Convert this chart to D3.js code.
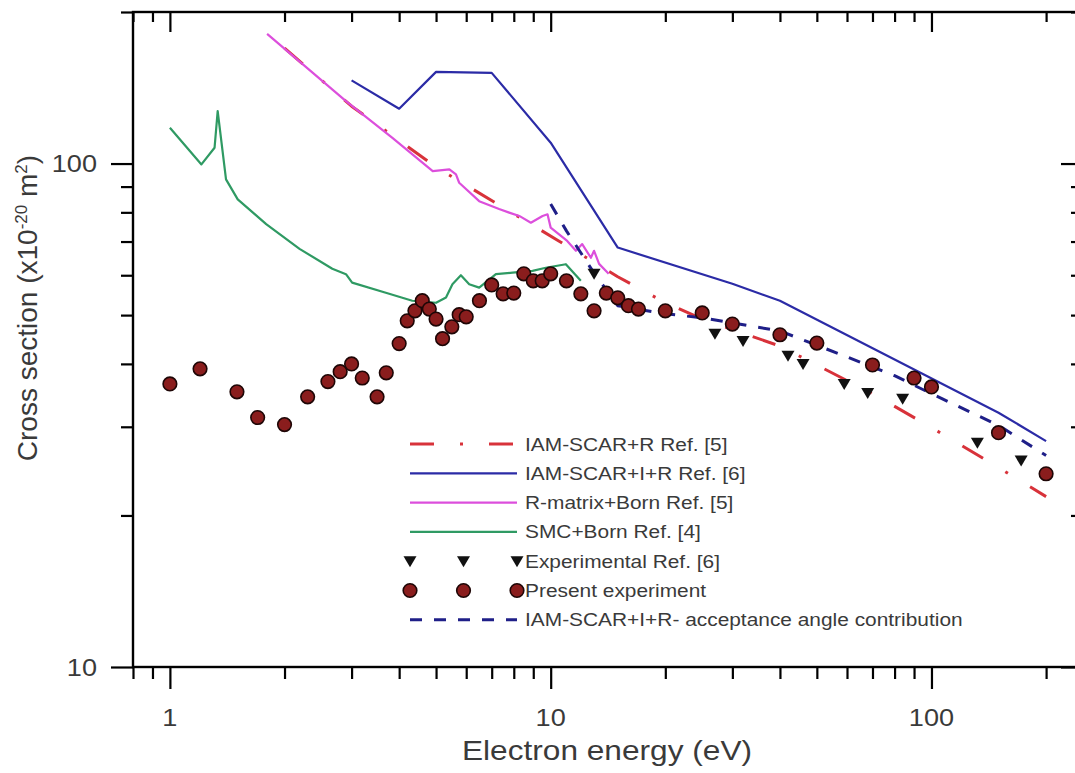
<!DOCTYPE html>
<html>
<head>
<meta charset="utf-8">
<script src="https://cdn.jsdelivr.net/npm/d3@7"></script>
<style>
  body { margin: 0; background: #fff; }
  svg { display: block; }
  text { font-family: "Liberation Sans", Arial, sans-serif; }
</style>
</head>
<body>
<svg id="chart" width="1075" height="773"></svg>
<script>
// ---- Data: electron energy (eV) and cross section (10^-20 m^2) ----
const iamRE  = [2, 3, 5, 10.5, 15, 20, 25, 40, 70, 100, 150, 200];
const iamRCS = [169.5, 130, 98.4, 70.2, 59.6, 52.9, 49.1, 43.4, 34.9, 29.9, 24.9, 21.8];

const iamIRE  = [3, 4, 5, 7, 10, 15, 30, 40, 150, 200];
const iamIRCS = [146.3, 128.5, 152.1, 151.4, 110, 68.1, 57.7, 53.4, 32.0, 28.1];

const rMatrixE  = [1.8, 2.9, 3.84, 4.9, 5.42, 5.64, 5.75, 6.49, 7.32, 7.78, 8.27, 8.87, 9.52, 9.81, 10.0, 10.5, 11.05, 11.65, 12.1, 12.75, 13.0, 13.4, 14.2];
const rMatrixCS = [180.9, 133.0, 112.5, 96.6, 97.4, 95.2, 91.6, 84.2, 81.2, 79.9, 78.7, 76.3, 78.7, 79.3, 74.6, 72.4, 70.2, 67.1, 69.2, 65.0, 67.1, 63.2, 60.4];

const smcE  = [1.0, 1.21, 1.31, 1.335, 1.404, 1.507, 1.79, 2.19, 2.67, 2.90, 3.01, 3.69, 4.33, 5.0, 5.31, 5.52, 5.81, 6.11, 6.49, 7.18, 7.94, 8.96, 9.71, 10.96, 12.0];
const smcCS = [117.8, 99.6, 107.5, 127.1, 93.0, 84.9, 75.8, 67.7, 61.8, 60.3, 58.0, 55.4, 53.4, 52.9, 54.2, 57.6, 60.0, 57.6, 56.7, 60.3, 60.7, 61.2, 62.1, 63.1, 58.5];

const acceptE  = [10, 11, 13, 15, 20, 25, 40, 60, 80, 100, 150, 200];
const acceptCS = [83.1, 73.5, 60.6, 52.2, 50.3, 49.4, 46.5, 41.3, 37.9, 34.9, 30.2, 26.3];

const ref6E  = [13, 27, 32, 42, 46, 59, 68, 84, 132, 172];
const ref6CS = [60.4, 45.9, 44.4, 41.5, 40.0, 36.5, 35.0, 34.1, 27.9, 25.7];

const presentE  = [1.0, 1.2, 1.5, 1.7, 2.0, 2.3, 2.6, 2.8, 3.0, 3.2, 3.5, 3.7, 4.0, 4.2, 4.4, 4.6, 4.8, 5.0, 5.2, 5.5, 5.75, 6.0, 6.5, 7.0, 7.5, 8.0, 8.5, 9.0, 9.5, 10, 11, 12, 13, 14, 15, 16, 17, 20, 25, 30, 40, 50, 70, 90, 100, 150, 200];
const presentCS = [36.5, 39.1, 35.2, 31.3, 30.3, 34.4, 36.9, 38.6, 40.0, 37.5, 34.4, 38.4, 43.9, 48.7, 51.0, 53.4, 51.4, 49.1, 44.9, 47.4, 50.1, 49.6, 53.4, 57.4, 55.1, 55.3, 60.4, 58.5, 58.5, 60.4, 58.5, 55.1, 51.0, 55.3, 54.1, 52.2, 51.4, 51.0, 50.5, 48.0, 45.7, 44.0, 39.8, 37.5, 36.0, 29.2, 24.2];

// ---- Axis ticks ----
const xMajor = [1, 10, 100];
const xMinor = [0.8, 0.9, 2, 3, 4, 5, 6, 7, 8, 9, 20, 30, 40, 50, 60, 70, 80, 90, 200];
const xLabels = ["1", "10", "100"];
const yMajor = [10, 100];
const yMinor = [20, 30, 40, 50, 60, 70, 80, 90, 200];
const yLabels = ["10", "100"];

const legendLabels = [
  "IAM-SCAR+R Ref. [5]",
  "IAM-SCAR+I+R Ref. [6]",
  "R-matrix+Born Ref. [5]",
  "SMC+Born Ref. [4]",
  "Experimental Ref. [6]",
  "Present experiment",
  "IAM-SCAR+I+R- acceptance angle contribution"
];

// ---- Layout ----
const svg = d3.select("#chart");
const pL = 133, pR = 1083, pT = 12, pB = 667;
const x = d3.scaleLog().domain([0.8, 250]).range([pL, pR]);
const y = d3.scaleLog().domain([10, 200]).range([pB, pT]);
const MAJ = 22, MIN = 12;
const SX = 1.13; // horizontal text stretch

const zip = (es, cs) => es.map((e, i) => ({ e, c: cs[i] }));
const line = d3.line().x(d => x(d.e)).y(d => y(d.c));

// ---- Series styles ----
const styles = {
  iamR:   { stroke: "#d8323a", width: 3,   dash: "24,26,3,26" },
  iamIR:  { stroke: "#2b2ba6", width: 2.2, dash: null },
  rmat:   { stroke: "#dc4fdc", width: 2.2, dash: null },
  smc:    { stroke: "#2f9a63", width: 2.2, dash: null },
  accept: { stroke: "#1f1f88", width: 3,   dash: "12,12" }
};

const plot = svg.append("g");
function drawLine(data, st) {
  plot.append("path")
    .attr("d", line(data))
    .attr("fill", "none")
    .attr("stroke", st.stroke)
    .attr("stroke-width", st.width)
    .attr("stroke-linejoin", "round")
    .attr("stroke-dasharray", st.dash);
}
drawLine(zip(smcE, smcCS), styles.smc);
drawLine(zip(iamIRE, iamIRCS), styles.iamIR);
drawLine(zip(iamRE, iamRCS), styles.iamR);
drawLine(zip(rMatrixE, rMatrixCS), styles.rmat);
drawLine(zip(acceptE, acceptCS), styles.accept);

// markers
const triPath = "M-6.5,-5 L6.5,-5 L0,6 Z";
function triangle(g, cx, cy) {
  g.append("path").attr("d", triPath)
    .attr("transform", `translate(${cx},${cy})`)
    .attr("fill", "#111");
}
function circle(g, cx, cy) {
  g.append("circle").attr("cx", cx).attr("cy", cy).attr("r", 6.8)
    .attr("fill", "#8a1d1d").attr("stroke", "#1e0606").attr("stroke-width", 1.6);
}
zip(ref6E, ref6CS).forEach(d => triangle(plot, x(d.e), y(d.c)));
zip(presentE, presentCS).forEach(d => circle(plot, x(d.e), y(d.c)));

// ---- Axes ----
const axisG = svg.append("g");
function tickAxis(axisFn, scale, vals, size, tx, ty) {
  const g = axisG.append("g").attr("transform", `translate(${tx},${ty})`)
    .call(axisFn(scale).tickValues(vals).tickSize(size).tickFormat(""));
  g.select(".domain").remove();
  g.selectAll("line").attr("stroke", "#000").attr("stroke-width", 2.2);
}
// bottom (outward), top (inward)
tickAxis(d3.axisBottom, x, xMajor, MAJ, 0, pB);
tickAxis(d3.axisBottom, x, xMinor, MIN, 0, pB);
tickAxis(d3.axisBottom, x, xMajor, MAJ - 2, 0, pT);
tickAxis(d3.axisBottom, x, xMinor, MIN - 2, 0, pT);
// left (outward), right (inward)
tickAxis(d3.axisLeft, y, yMajor, MAJ, pL, 0);
tickAxis(d3.axisLeft, y, yMinor, MIN, pL, 0);
tickAxis(d3.axisLeft, y, yMajor, MAJ, pR, 0);
tickAxis(d3.axisLeft, y, yMinor, MIN, pR, 0);

// frame
axisG.append("rect").attr("x", pL).attr("y", pT)
  .attr("width", pR - pL).attr("height", pB - pT)
  .attr("fill", "none").attr("stroke", "#000").attr("stroke-width", 2.4);

// tick labels
function stretched(g, tx, ty, txt, size, anchor, fill) {
  return g.append("text")
    .attr("transform", `translate(${tx},${ty}) scale(${SX},1)`)
    .attr("text-anchor", anchor)
    .attr("font-size", size)
    .attr("fill", fill)
    .text(txt);
}
const labG = svg.append("g");
xMajor.forEach((v, i) => stretched(labG, x(v), 726, xLabels[i], 24, "middle", "#3a3a3a"));
yMajor.forEach((v, i) => stretched(labG, 97, y(v) + 8.5, yLabels[i], 24, "end", "#3a3a3a"));

// axis titles
stretched(labG, 607, 760, "Electron energy (eV)", 28, "middle", "#3a3a3a");
const yt = labG.append("text")
  .attr("transform", "translate(37,308) rotate(-90)")
  .attr("text-anchor", "middle")
  .attr("font-size", 28)
  .attr("fill", "#3a3a3a");
yt.append("tspan").text("Cross section (x10");
yt.append("tspan").attr("font-size", 17).attr("dy", -10).text("-20");
yt.append("tspan").attr("dy", 10).text(" m");
yt.append("tspan").attr("font-size", 17).attr("dy", -10).text("2");
yt.append("tspan").attr("dy", 10).text(")");

// ---- Legend ----
const legG = svg.append("g");
const legX0 = 410, legX1 = 517, legTextX = 525, legY0 = 444, legDY = 29.3;
const legendKinds = ["iamR", "iamIR", "rmat", "smc", "tri", "circ", "accept"];
legendKinds.forEach((k, i) => {
  const ly = legY0 + i * legDY;
  if (k === "tri") {
    [legX0, (legX0 + legX1) / 2, legX1].forEach(px => triangle(legG, px, ly));
  } else if (k === "circ") {
    [legX0, (legX0 + legX1) / 2, legX1].forEach(px => circle(legG, px, ly));
  } else {
    const st = styles[k];
    legG.append("line").attr("x1", legX0).attr("x2", legX1)
      .attr("y1", ly).attr("y2", ly)
      .attr("stroke", st.stroke).attr("stroke-width", st.width)
      .attr("stroke-dasharray", st.dash);
  }
  stretched(legG, legTextX, ly + 6.5, legendLabels[i], 18.5, "start", "#3a3a3a");
});
</script>
</body>
</html>
